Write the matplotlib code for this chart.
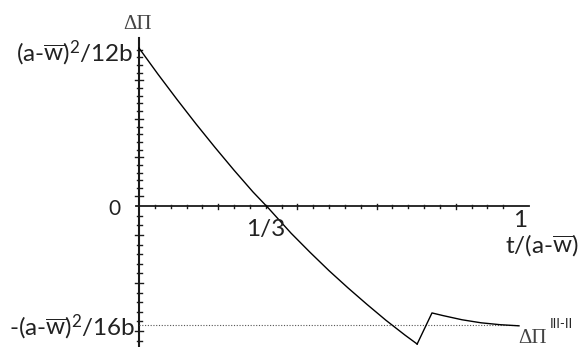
import numpy as np
import matplotlib
matplotlib.use('Agg')
import matplotlib.pyplot as plt

plt.rcParams['font.family'] = ['Lato', 'DejaVu Sans']
plt.rcParams['mathtext.fontset'] = 'custom'
plt.rcParams['mathtext.rm'] = 'Lato'
plt.rcParams['mathtext.it'] = 'Lato'

# data: x = t/(a-w), y = dPi in units of (a-w)^2/b
x_fall = [0.0, 0.05, 0.10, 0.15, 0.20, 0.25, 0.30, 0.34, 0.40, 0.45, 0.50,
          0.55, 0.60, 0.65, 0.70, 0.732]
y_fall = [0.0833, 0.0695, 0.0562, 0.0433, 0.0309, 0.0189, 0.0074, -0.0010,
          -0.0143, -0.0244, -0.0341, -0.0432, -0.0519, -0.0603, -0.0681, -0.0728]
x_tail = [0.732, 0.771, 0.80, 0.85, 0.90, 0.95, 1.0]
y_tail = [-0.0728, -0.0564, -0.0578, -0.0600, -0.0616, -0.0626, -0.0632]
y_top = 1 / 12
y_bottom = -1 / 16

# pixel scale of the drawing
sx = 380.0
sy = 1896.0

fig = plt.figure(figsize=(5.84, 3.47), dpi=100)
ax = fig.add_axes([0, 0, 1, 1])
ax.set_xlim(-139 / sx, 445 / sx)
ax.set_ylim(-141 / sy, 206 / sy)
ax.axis('off')

axc = '#1a1a1a'
# axes
ax.plot([-3 / sx, 390 / sx], [0, 0], color=axc, lw=1.3)
ax.plot([0, 0], [168 / sy, -141 / sy], color=axc, lw=1.5)

# x ticks
for k in range(1, 24):
    h = 2.5 if k % 5 == 0 else 1.5
    ax.plot([k / 24, k / 24], [-h / sy, h / sy], color=axc, lw=1.0)

# y ticks above zero
for k in range(-14, 6):
    yp = 157.3 + 7.7 * k
    h = 4 if k % 5 == 0 else 2.5
    ax.plot([-h / sx, h / sx], [(206 - yp) / sy] * 2, color=axc, lw=1.0)
# y ticks below zero
for k in range(-2, 12):
    yp = 235 + 9.6 * k
    h = 4 if k % 5 == 0 else 2.5
    ax.plot([-h / sx, h / sx], [(206 - yp) / sy] * 2, color=axc, lw=1.0)

# dotted asymptote
ax.plot([0, 1.0], [y_bottom, y_bottom], color='#555555', lw=0.8, ls=(0, (1, 1.5)))

# curve
ax.plot(x_fall, y_fall, color='black', lw=1.0)
ax.plot(x_tail, y_tail, color='black', lw=1.0)

tc = '#222222'
fs = 17.5
ax.text(-6 / sx, 145 / sy, r'(a-$\overline{\mathrm{w}}$)$^2$/12b', ha='right',
        va='baseline', fontsize=fs, color=tc)
ax.text(-4 / sx, -129 / sy, r'-(a-$\overline{\mathrm{w}}$)$^2$/16b', ha='right',
        va='baseline', fontsize=fs, color=tc)
ax.text(-19 / sx, -9 / sy, '0', ha='right', va='baseline', fontsize=15, color=tc)
ax.text(1 / 3, -30 / sy, '1/3', ha='center', va='baseline', fontsize=fs, color=tc)
ax.text(1.003, -21 / sy, '1', ha='center', va='baseline', fontsize=fs, color=tc)
ax.text(440 / sx, -47 / sy, r't/(a-$\overline{\mathrm{w}}$)', ha='right',
        va='baseline', fontsize=fs, color=tc)

ax.text(-2 / sx, 177 / sy, 'ΔΠ', ha='center', va='baseline', fontsize=15,
        color='#444444', family=['Liberation Serif', 'DejaVu Serif'])
ax.text(379 / sx, -137 / sy, 'ΔΠ', ha='left', va='baseline', fontsize=15,
        color='#444444', family=['Liberation Serif', 'DejaVu Serif'])
ax.text(411 / sx, -122 / sy, 'III-II', ha='left', va='baseline', fontsize=9.5,
        color=tc)

fig.savefig('out.png', dpi=100)
